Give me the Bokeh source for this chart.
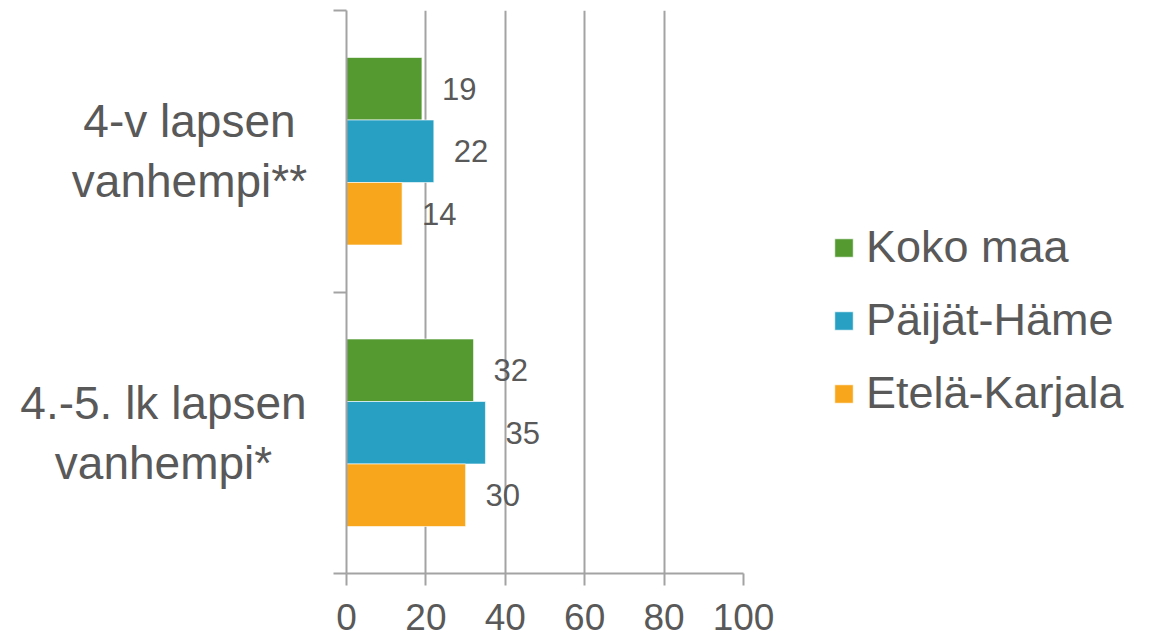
from bokeh.plotting import figure
from bokeh.layouts import row
from bokeh.models import (Range1d, FixedTicker, Legend, LegendItem,
                          ColumnDataSource, LabelSet)
from bokeh.core.properties import value
from bokeh.embed import file_html
from bokeh.resources import INLINE

# Respondent groups (top to bottom) and regional shares, %
categories = ["4-v lapsen\nvanhempi**", "4.-5. lk lapsen\nvanhempi*"]
series = ["Koko maa", "Päijät-Häme", "Etelä-Karjala"]
koko_maa = [19, 32]
paijat_hame = [22, 35]
etela_karjala = [14, 30]
x_ticks = [0, 20, 40, 60, 80, 100]

colors = ["#549A31", "#27A0C4", "#F8A61B"]
text_color = "#595959"
axis_color = "#A3A3A3"
font = "Liberation Sans"

values = [koko_maa, paijat_hame, etela_karjala]

# each category occupies one unit band; the top category sits in band [1, 2]
n_cat = len(categories)
centers = [n_cat - i - 0.5 for i in range(n_cat)]
bar_h = 0.222
offsets = [bar_h, 0.0, -bar_h]

LABEL_W = 320          # width of the category-label strip, px
FRAME_TOP, FRAME_BOTTOM = 10, 64
FRAME_H = 563

# ---- category labels (lines centred within each block) ----
lab = figure(width=LABEL_W, height=FRAME_TOP + FRAME_H + FRAME_BOTTOM,
             frame_width=LABEL_W, frame_height=FRAME_H,
             min_border_left=0, min_border_right=0,
             min_border_top=FRAME_TOP, min_border_bottom=FRAME_BOTTOM,
             x_range=Range1d(0, LABEL_W), y_range=Range1d(0, n_cat),
             x_axis_type=None, y_axis_type=None,
             output_backend="svg", toolbar_location=None)
lab.outline_line_color = None
lab.grid.visible = False
label_x = [189, 163]   # block centres so each block ends near the axis
lab.text(x=label_x, y=centers, text=categories,
         text_align="center", text_baseline="middle",
         text_font=value(font), text_font_size=value("46px"),
         text_color=text_color, text_line_height=1.15)

# ---- bar chart ----
p = figure(frame_width=397, frame_height=FRAME_H,
           min_border_left=346 - LABEL_W, min_border_right=415,
           min_border_top=FRAME_TOP, min_border_bottom=FRAME_BOTTOM,
           x_range=Range1d(0, 100), y_range=Range1d(0, n_cat),
           output_backend="svg", toolbar_location=None)
p.outline_line_color = None
p.background_fill_color = "white"
p.border_fill_color = "white"

renderers = []
for vals, off, col in zip(values, offsets, colors):
    src = ColumnDataSource(dict(y=[c + off for c in centers], v=vals,
                                lbl=[str(v) for v in vals]))
    r = p.hbar(y="y", right="v", left=0, height=bar_h, source=src,
               fill_color=col, line_color="white", line_alpha=0.6, line_width=1)
    renderers.append(r)
    p.add_layout(LabelSet(x="v", y="y", text="lbl", source=src,
                          x_offset=20, text_align="left", text_baseline="middle",
                          text_font=value(font), text_font_size=value("31px"),
                          text_color=value(text_color)))

# x axis
xa = p.xaxis[0]
xa.ticker = FixedTicker(ticks=x_ticks)
xa.axis_line_color = axis_color
xa.axis_line_width = 2
xa.major_tick_line_color = axis_color
xa.major_tick_line_width = 2
xa.major_tick_in = 0
xa.major_tick_out = 12
xa.minor_tick_line_color = None
xa.major_label_text_font = font
xa.major_label_text_font_size = "37px"
xa.major_label_text_color = text_color
xa.major_label_standoff = 18

# y axis: only tick marks at the band edges (labels are drawn beside it)
ya = p.yaxis[0]
ya.ticker = FixedTicker(ticks=[], minor_ticks=list(range(n_cat + 1)))
ya.axis_line_color = axis_color
ya.axis_line_width = 2
ya.major_tick_line_color = None
ya.major_tick_in = 0
ya.major_tick_out = 0
ya.minor_tick_line_color = axis_color
ya.minor_tick_line_width = 2
ya.minor_tick_in = 0
ya.minor_tick_out = 13
ya.major_label_text_font_size = "0px"
ya.major_label_standoff = 0

p.xgrid.ticker = FixedTicker(ticks=x_ticks)
p.xgrid.grid_line_color = axis_color
p.xgrid.grid_line_width = 2
p.ygrid.grid_line_color = None

legend = Legend(items=[LegendItem(label=s, renderers=[r])
                       for s, r in zip(series, renderers)],
                location=(89, 154), orientation="vertical")
legend.padding = 0
legend.margin = 0
legend.border_line_color = None
legend.background_fill_alpha = 0
legend.glyph_width = 23
legend.glyph_height = 23
legend.label_height = 50
legend.spacing = 21
legend.label_standoff = 11
legend.label_text_font = font
legend.label_text_font_size = "45px"
legend.label_text_color = text_color
p.add_layout(legend, "right")

layout = row(lab, p, spacing=0)
open("out.html", "w").write(file_html(layout, INLINE))
